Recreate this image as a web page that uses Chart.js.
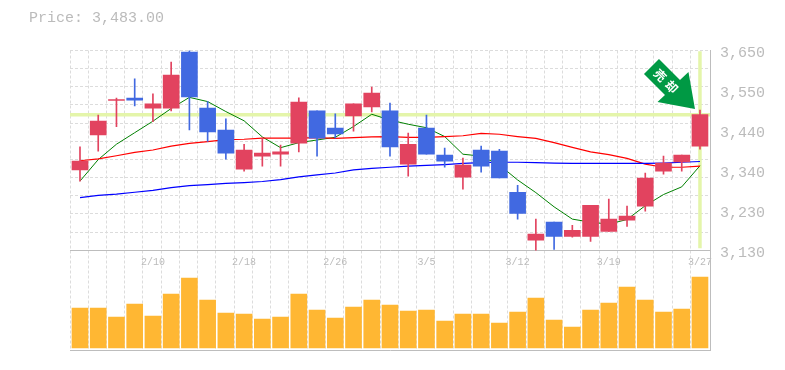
<!DOCTYPE html>
<html><head><meta charset="utf-8">
<style>html,body{margin:0;padding:0;background:#fff}#w{width:785px;height:370px;position:relative}</style>
<script src="https://cdn.jsdelivr.net/npm/chart.js@4/dist/chart.umd.min.js"></script>
</head><body><div id="w"><canvas id="c" width="785" height="370"></canvas></div>
<script>
const priceTitle = "Price: 3,483.00";
const dates = {4:"2/10",9:"2/18",14:"2/26",19:"3/5",24:"3/12",29:"3/19",34:"3/27"};
const priceTicks = [3650,3546,3442,3338,3234,3130];
const wickHigh = [3399,3482,3526,3576,3537,3620,3652,3517,3472,3406,3422,3404,3527,3493,3485,3511,3555,3513,3435,3482,3396,3370,3401,3393,3299,3211,3203,3195,3247,3263,3245,3331,3375,3378,3495];
const wickLow  = [3310,3388,3452,3506,3465,3493,3443,3413,3367,3336,3349,3349,3386,3375,3422,3440,3490,3375,3323,3380,3346,3289,3333,3318,3211,3130,3132,3164,3153,3179,3192,3232,3328,3336,3393];
const opens  = [3339,3430,3520,3526,3500,3500,3646,3500,3443,3341,3375,3380,3409,3493,3448,3480,3503,3493,3354,3448,3378,3320,3391,3388,3281,3156,3203,3166,3166,3179,3208,3245,3336,3360,3401];
const closes = [3362,3466,3522,3521,3511,3586,3529,3438,3383,3391,3383,3386,3516,3422,3433,3511,3539,3399,3406,3380,3362,3352,3349,3318,3226,3172,3166,3182,3247,3211,3219,3318,3357,3378,3483];
const maShort = [3310,3366,3406,3436,3466,3499,3528,3517,3491,3467,3425,3397,3410,3417,3424,3452,3484,3469,3458,3449,3426,3380,3375,3352,3313,3280,3243,3211,3203,3198,3210,3246,3275,3295,3350];
const maMid   = [3363,3368,3376,3385,3391,3401,3408,3413,3418,3419,3422,3422,3422,3423,3421,3423,3425,3426,3424,3424,3426,3428,3434,3432,3426,3421,3410,3398,3386,3379,3369,3354,3346,3346,3349];
const maLong  = [3267,3273,3276,3281,3286,3293,3298,3301,3304,3306,3309,3314,3321,3326,3331,3339,3343,3346,3349,3351,3353,3356,3358,3359,3359,3358,3357,3356,3356,3356,3356,3356,3357,3359,3361];
const volumes = [40,40,31,44,32,54,70,48,35,34,29,31,54,38,30,41,48,43,37,38,27,34,34,25,36,50,28,21,38,45,61,48,36,39,71];
const signalLabel = "売却";
const lastClose = 3483;

const RED="#e2435f", BLUE="#4169e1", GRIDC="#dcdcdc", AXISC="#bdbdbd", TXT="#bbbbbb", HL="#e4f5aa";
const idx = opens.map((_,i)=>i);
const asXY = a => a.map((y,i)=>({x:i,y}));
const candleColors = opens.map((o,i)=>closes[i]>=o?RED:BLUE);

const xMin=-0.548, xMax=34.55, yTop=3650, yBot=3130;
const pxPerPrice = 199.6/520;
const yMinExt = yBot - 99.7/pxPerPrice;
const gridStep = 520/11;

const arrowPlugin = {
  id:"signalArrow",
  afterDatasetsDraw(ch){
    const ax=ch.scales.x.getPixelForValue(34), ay=ch.scales.yPrice.getPixelForValue(wickHigh[34]);
    const c=ch.ctx; c.save(); c.translate(ax,ay);
    const pts=[[-41,-51],[-56,-36],[-35,-15],[-42.5,-8],[-5,-1],[-11.5,-38],[-20,-30]];
    c.fillStyle="#009944"; c.beginPath();
    pts.forEach((p,i)=>i?c.lineTo(p[0],p[1]):c.moveTo(p[0],p[1])); c.closePath(); c.fill();
    c.translate(-34,-29); c.rotate(Math.PI/4);
    c.fillStyle="#fff"; c.font='bold 12px "Noto Sans CJK JP"'; c.letterSpacing="4px"; c.textAlign="center"; c.textBaseline="middle";
    c.fillText(signalLabel,2,0);
    c.restore();
  }
};

new Chart(document.getElementById("c"),{
  data:{datasets:[
    {type:"bar",label:"Volume",yAxisID:"yVol",xAxisID:"x",order:9,grouped:false,barThickness:16,backgroundColor:"#ffb733",data:asXY(volumes)},
    {type:"line",label:"Last",yAxisID:"yPrice",xAxisID:"x",order:8,borderColor:HL,borderWidth:3.5,pointRadius:0,data:[{x:xMin,y:lastClose},{x:xMax,y:lastClose}]},
    {type:"line",label:"Marker",yAxisID:"yPrice",xAxisID:"x",order:8,borderColor:HL,borderWidth:3.5,pointRadius:0,data:[{x:34,y:3648},{x:34,y:3135}]},
    {type:"line",label:"MA long",yAxisID:"yPrice",xAxisID:"x",order:6,borderColor:"#0000ff",borderWidth:1.2,pointRadius:0,tension:0,data:asXY(maLong)},
    {type:"line",label:"MA mid",yAxisID:"yPrice",xAxisID:"x",order:6,borderColor:"#ff0000",borderWidth:1.2,pointRadius:0,tension:0,data:asXY(maMid)},
    {type:"line",label:"MA short",yAxisID:"yPrice",xAxisID:"x",order:6,borderColor:"#008000",borderWidth:1,pointRadius:0,tension:0,data:asXY(maShort)},
    {type:"bar",label:"Wick",yAxisID:"yPrice",xAxisID:"x",order:3,grouped:false,barThickness:1,backgroundColor:candleColors,data:idx.map(i=>({x:i,y:[wickLow[i],wickHigh[i]]}))},
    {type:"bar",label:"Body",yAxisID:"yPrice",xAxisID:"x",order:2,grouped:false,barThickness:16,backgroundColor:candleColors,data:idx.map(i=>({x:i,y:[opens[i],closes[i]]}))}
  ]},
  options:{
    responsive:false,animation:false,
    layout:{padding:{left:29,top:0,right:0,bottom:20}},
    plugins:{
      legend:{display:false},tooltip:{enabled:false},
      title:{display:true,text:priceTitle,align:"start",color:TXT,font:{family:"Liberation Mono",size:15,weight:"normal"},padding:{top:9,bottom:23.5}}
    },
    scales:{
      x:{type:"linear",axis:"x",offset:false,position:{yPrice:yBot},min:xMin,max:xMax,
         afterBuildTicks(s){s.ticks=Object.keys(dates).map(k=>({value:+k}));},
         grid:{display:false,offset:false},border:{display:true,color:AXISC,width:1},
         ticks:{autoSkip:false,maxRotation:0,color:TXT,padding:-2,font:{family:"Liberation Mono",size:10},callback:v=>dates[v]}},
      xGrid:{type:"linear",offset:false,position:"bottom",min:xMin,max:xMax,
         afterBuildTicks(s){s.ticks=Array.from({length:35},(_,k)=>({value:xMin+k*1.0008}));},
         afterFit(s){s.height=0;},
         grid:{color:GRIDC,lineWidth:1,drawTicks:false,offset:false},border:{display:true,color:AXISC,width:1,dash:[3,2]},
         ticks:{display:false}},
      yPrice:{type:"linear",position:"right",min:yMinExt,max:yTop,
         afterBuildTicks(s){s.ticks=priceTicks.map(v=>({value:v}));},
         afterFit(s){s.width=75;},
         grid:{display:false},border:{display:true,color:AXISC,width:1},
         ticks:{autoSkip:false,color:TXT,padding:2,labelOffset:2.7,font:{family:"Liberation Mono",size:15},
                callback:v=>(Math.round(v/10)*10).toLocaleString("en-US")}},
      yGrid:{type:"linear",position:"left",min:yMinExt,max:yTop,
         afterBuildTicks(s){s.ticks=Array.from({length:11},(_,k)=>({value:yTop-k*gridStep}));},
         afterFit(s){s.width=41;},
         grid:{color:GRIDC,lineWidth:1,drawTicks:false},border:{display:false,dash:[3,2]},
         ticks:{display:false}},
      yVol:{type:"linear",display:false,min:-2,max:297.5}
    }
  },
  plugins:[arrowPlugin]
});
</script></body></html>
